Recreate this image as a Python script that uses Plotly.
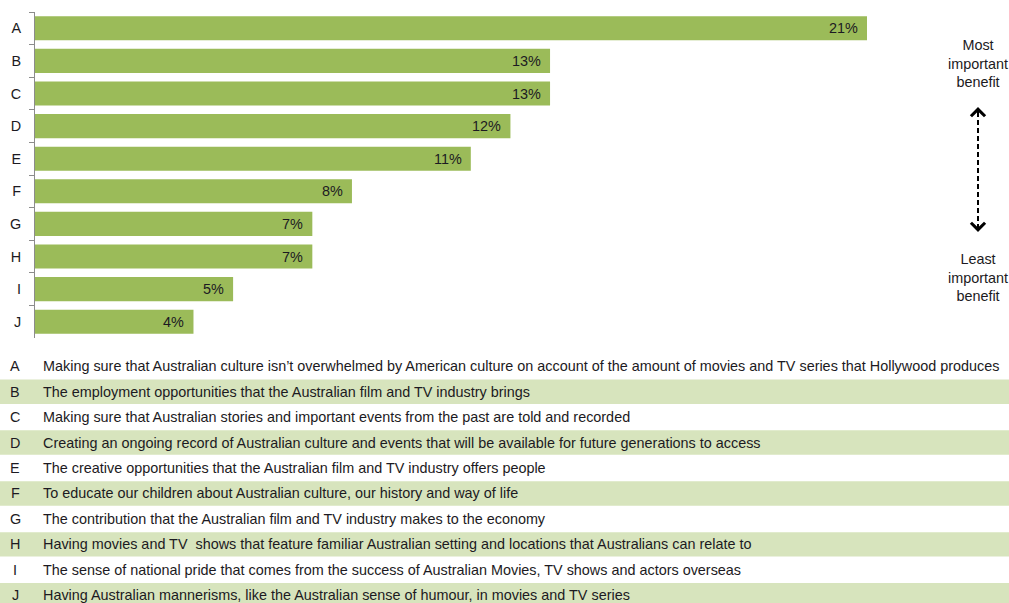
import plotly.graph_objects as go

# Ranking of benefits: share of respondents naming each as most important
letters = ["A", "B", "C", "D", "E", "F", "G", "H", "I", "J"]
shares = [21, 13, 13, 12, 11, 8, 7, 7, 5, 4]
descriptions = [
    "Making sure that Australian culture isn\u2019t overwhelmed by American culture on account of the amount of movies and TV series that Hollywood produces",
    "The employment opportunities that the Australian film and TV industry brings",
    "Making sure that Australian stories and important events from the past are told and recorded",
    "Creating an ongoing record of Australian culture and events that will be available for future generations to access",
    "The creative opportunities that the Australian film and TV industry offers people",
    "To educate our children about Australian culture, our history and way of life",
    "The contribution that the Australian film and TV industry makes to the economy",
    "Having movies and TV  shows that feature familiar Australian setting and locations that Australians can relate to",
    "The sense of national pride that comes from the success of Australian Movies, TV shows and actors overseas",
    "Having Australian mannerisms, like the Australian sense of humour, in movies and TV series",
]

W, H = 1009, 603
FONT = "Liberation Sans, Arial, sans-serif"
TEXT = "#1c1a22"
BAR = "#9bbb59"
BAND = "#d7e4bd"
FS = 14.4


def px_x(x):
    return x / W


def px_y(y):
    return 1 - y / H


fig = go.Figure()
fig.add_trace(go.Bar(
    x=shares,
    y=letters,
    orientation="h",
    marker=dict(color=BAR, line=dict(width=0)),
    width=0.74,
    hoverinfo="skip",
))

annotations = []
shapes = []

# value labels just inside each bar end
for letter, v in zip(letters, shares):
    annotations.append(dict(
        x=v, y=letter, xref="x", yref="y", text=f"{v}%", showarrow=False,
        xanchor="right", xshift=-7, font=dict(family=FONT, size=FS, color=TEXT),
    ))

# key table below the chart, alternating shaded rows
row_top, row_h = 353.5, 25.45
for i, (letter, desc) in enumerate(zip(letters, descriptions)):
    y0 = row_top + i * row_h
    yc = y0 + row_h / 2
    if i % 2 == 1:
        shapes.append(dict(
            type="rect", xref="paper", yref="paper",
            x0=0, x1=1, y0=px_y(y0 + 0.5), y1=px_y(y0 + row_h - 0.5),
            fillcolor=BAND, line=dict(width=0), layer="below",
        ))
    annotations.append(dict(
        x=px_x(15), y=px_y(yc), xref="paper", yref="paper", text=letter,
        showarrow=False, xanchor="center", yanchor="middle",
        font=dict(family=FONT, size=FS, color=TEXT),
    ))
    annotations.append(dict(
        x=px_x(41), y=px_y(yc), xref="paper", yref="paper", text=desc,
        showarrow=False, xanchor="left", yanchor="middle",
        font=dict(family=FONT, size=FS, color=TEXT),
    ))

# side scale: most to least important
annotations.append(dict(
    x=px_x(978), y=px_y(64), xref="paper", yref="paper",
    text="Most<br>important<br>benefit", showarrow=False,
    xanchor="center", yanchor="middle",
    font=dict(family=FONT, size=FS, color=TEXT),
))
annotations.append(dict(
    x=px_x(978), y=px_y(277), xref="paper", yref="paper",
    text="Least<br>important<br>benefit", showarrow=False,
    xanchor="center", yanchor="middle",
    font=dict(family=FONT, size=FS, color=TEXT),
))
shapes.append(dict(
    type="line", xref="paper", yref="paper",
    x0=px_x(978), x1=px_x(978), y0=px_y(112), y1=px_y(227),
    line=dict(color="#000000", width=2, dash="5px,3px"),
))
for y_tip, shaft in ((107, 9), (232, -9)):
    annotations.append(dict(
        x=px_x(978), y=px_y(y_tip), ax=0, ay=shaft,
        xref="paper", yref="paper", axref="pixel", ayref="pixel",
        text="", showarrow=True, arrowhead=4, arrowsize=1.7,
        arrowwidth=1.6, arrowcolor="#000000",
    ))

x0_px, x_end_px = 35, 900
px_per_unit = (867 - 35) / 21

fig.update_layout(
    width=W, height=H,
    margin=dict(l=0, r=0, t=0, b=0),
    paper_bgcolor="white", plot_bgcolor="white",
    showlegend=False,
    bargap=0.26,
    xaxis=dict(
        domain=[px_x(x0_px), px_x(x_end_px)],
        range=[0, (x_end_px - x0_px) / px_per_unit],
        visible=False, fixedrange=True,
    ),
    yaxis=dict(
        domain=[px_y(338), px_y(12)],
        autorange="reversed",
        type="category",
        showline=True, linecolor="#8c8c8c", linewidth=1,
        ticks="outside", tickson="boundaries", ticklen=5,
        tickcolor="#8c8c8c", tickwidth=1,
        showgrid=False, zeroline=False,
        tickfont=dict(family=FONT, size=FS, color=TEXT),
        ticklabelstandoff=10,
        fixedrange=True,
    ),
    annotations=annotations,
    shapes=shapes,
)

fig.write_html("out.html")
